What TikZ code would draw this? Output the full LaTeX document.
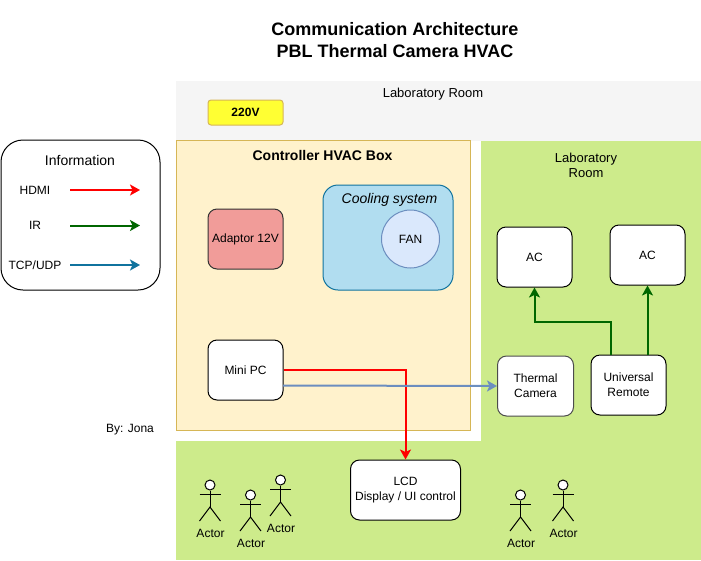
\documentclass[tikz,border=0pt]{standalone}
\usepackage{fontspec}
\setmainfont{Liberation Sans}
\usetikzlibrary{arrows.meta}
\definecolor{roomgray}{HTML}{F5F5F5}
\definecolor{roomgreen}{HTML}{CDEB8B}
\definecolor{boxfill}{HTML}{FFF2CC}
\definecolor{boxline}{HTML}{D6B656}
\definecolor{coolfill}{HTML}{B1DDF0}
\definecolor{coolline}{HTML}{10739E}
\definecolor{fanfill}{HTML}{DAE8FC}
\definecolor{fanline}{HTML}{6C8EBF}
\definecolor{adaptfill}{HTML}{F19C99}
\definecolor{powerfill}{HTML}{FFFF33}
\definecolor{irgreen}{HTML}{006600}
\tikzset{
  txt/.style={font=\fontsize{12}{15}\selectfont, align=center, inner sep=0pt},
  bigtxt/.style={txt, font=\fontsize{13}{15}\selectfont},
  device/.style={draw, fill=white, rounded corners=9pt, txt, minimum width=75pt, minimum height=60pt},
  link/.style={draw, line width=2pt, -{Stealth[length=10pt,width=11pt,inset=2.5pt]}},
}
\begin{document}
\begin{tikzpicture}[x=1pt,y=-1pt,line width=1pt]
\useasboundingbox (0,0) rectangle (701,560);

% rooms
\fill[roomgray] (176,81) rectangle (701,141);
\fill[roomgreen] (481,141) rectangle (701,441);
\fill[roomgreen] (176,441) rectangle (701,560);
\node[draw=boxline, fill=boxfill, minimum width=294pt, minimum height=290pt, inner sep=0pt] (box) at (323,285.5) {};

% titles
\node[txt, font=\fontsize{18}{22}\selectfont\bfseries] (title) at (395,40) {Communication Architecture\\PBL Thermal Camera HVAC};
\node[bigtxt] (room1) at (433,94) {Laboratory Room};
\node[bigtxt] (room2) at (586,165) {Laboratory\\Room};
\node[txt, font=\fontsize{14}{16}\selectfont\bfseries] (boxtitle) at (322.5,155) {Controller HVAC Box};
\node[txt] (author) at (130,429.5) {By: Jona};

% controller box
\node[device, draw=boxline, fill=powerfill, minimum height=25pt, rounded corners=3pt, font=\fontsize{12}{15}\selectfont\bfseries] (power) at (245.5,112.5) {220V};
\node[device, draw=black!80, fill=adaptfill] (adaptor) at (245.5,239) {Adaptor 12V};
\node[draw=coolline, fill=coolfill, rounded corners=15pt, minimum width=130pt, minimum height=105pt] (cooling) at (388,237.5) {};
\node[txt, font=\fontsize{14}{16}\selectfont\itshape] (coolname) at (389.5,200) {Cooling system};
\node[draw=fanline, fill=fanfill, circle, txt, minimum size=58pt] (fan) at (410.5,239) {FAN};
\node[device] (minipc) at (245.5,370) {Mini PC};

% lab room
\node[device] (ac1) at (534.5,257) {AC};
\node[device] (ac2) at (647.5,255) {AC};
\node[device, minimum width=76pt, draw=black!70] (thermal) at (535.5,386) {Thermal\\Camera};
\node[device] (remote) at (628.5,385) {Universal\\Remote};
\node[device, minimum width=110pt] (lcd) at (405.5,490) {LCD\\Display / UI control};

% legend
\node[draw, fill=white, rounded corners=22pt, minimum width=159pt, minimum height=150pt] (info) at (80.5,215) {};
\node[txt, font=\fontsize{14}{16}\selectfont] (infoname) at (80,160) {Information};
\node[txt] (hdmi) at (35,190) {HDMI};
\node[txt] (ir) at (35,225) {IR};
\node[txt] (tcp) at (35,265) {TCP/UDP};
\coordinate (hdmiA) at (70,190);
\coordinate (hdmiB) at (140,190);
\coordinate (irA) at (70,225.5);
\coordinate (irB) at (140,225.5);
\coordinate (tcpA) at (70,265);
\coordinate (tcpB) at (140,265);
\path[link,red] (hdmiA) -- (hdmiB);
\path[link,irgreen] (irA) -- (irB);
\path[link,coolline] (tcpA) -- (tcpB);

% connectors
\coordinate (pcout) at (283,385.5);
\coordinate (remoteA) at (610.5,355);
\coordinate (remoteB) at (647.5,355);
\coordinate (turn) at (610.5,322);
\path[link,red] (minipc.east) -| (lcd.north);
\path[link,fanline] (pcout) -- (thermal.west);
\path[link,irgreen] (remoteA) -- (turn) -| (ac1.south);
\path[link,irgreen] (remoteB) -- (ac2.south);

% actors
\foreach \name/\xx/\yy in {a/210/485, b/250.5/495, c/280.5/480, d/520.5/495, e/563/485} {
  \node[draw, fill=white, circle, minimum size=10pt, inner sep=0pt] (\name head) at (\xx,\yy) {};
  \coordinate (\name hip) at (\xx,\yy+22);
  \coordinate (\name armL) at (\xx-10.5,\yy+9);
  \coordinate (\name armR) at (\xx+10.5,\yy+9);
  \coordinate (\name footL) at (\xx-10.5,\yy+36);
  \coordinate (\name footR) at (\xx+10.5,\yy+36);
  \draw (\name head) -- (\name hip);
  \draw (\name armL) -- (\name armR);
  \draw (\name footL) -- (\name hip) -- (\name footR);
  \node[txt] (\name label) at (\xx+0.5,\yy+48.5) {Actor};
}
\end{tikzpicture}
\end{document}
